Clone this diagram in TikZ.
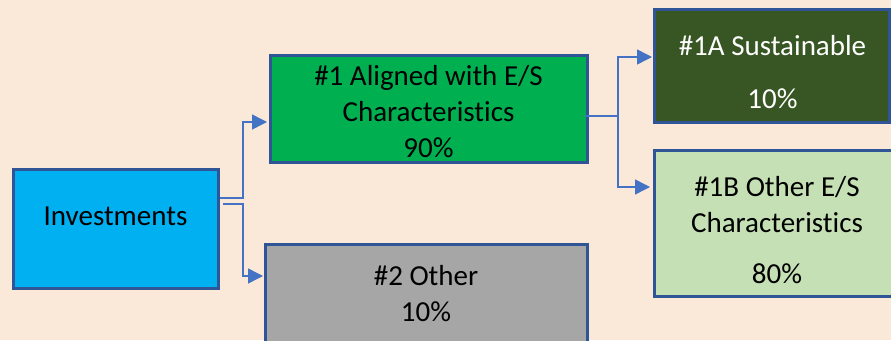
\documentclass[tikz,border=0pt]{standalone}
\usepackage{fontspec}
\setmainfont{Carlito}[Ligatures=NoCommon]
\usetikzlibrary{arrows.meta,calc}
\definecolor{bgpeach}{RGB}{250,232,217}
\definecolor{edgeblue}{RGB}{47,85,151}
\definecolor{connblue}{RGB}{68,114,196}
\definecolor{invblue}{RGB}{0,176,240}
\definecolor{esgreen}{RGB}{0,176,80}
\definecolor{susgreen}{RGB}{55,86,35}
\definecolor{oesgreen}{RGB}{197,224,180}
\definecolor{othgray}{RGB}{166,166,166}
\begin{document}
\begin{tikzpicture}[x=1pt,y=-1pt,
    box/.style={draw=edgeblue, line width=3pt, inner sep=0pt, outer sep=0pt, anchor=north west},
    lbl/.style={anchor=base, align=center, inner sep=0pt, font=\fontsize{29}{36}\selectfont},
    conn/.style={draw=connblue, line width=1.5pt, -{Triangle[length=15pt,width=15pt]}}]
\useasboundingbox (0,0) rectangle (891,340);
\clip (0,0) rectangle (891,340);
\fill[bgpeach] (0,0) rectangle (891,340);
\node[box, fill=invblue, minimum width=205pt, minimum height=119pt] (inv) at (13,169) {};
\node[box, fill=esgreen, minimum width=317pt, minimum height=107pt] (es) at (270,55) {};
\node[box, fill=othgray, minimum width=322pt, minimum height=120pt] (oth) at (265,244) {};
\node[box, fill=susgreen, minimum width=235pt, minimum height=113pt] (sus) at (654,9) {};
\node[box, fill=oesgreen, minimum width=246pt, minimum height=146pt] (oes) at (654,150) {};
\node[lbl] (invtxt) at ($(inv.north)+(0,56)$) {Investments};
\node[lbl] (estxt) at ($(es.north)+(0,102)$) {\#1 Aligned with E/S\\Characteristics\\90\%};
\node[lbl] (othtxt) at ($(oth.north)+(0,77)$) {\#2 Other\\10\%};
\node[lbl, text=white] (sustxt) at ($(sus.north)+(1,99)$) {\#1A Sustainable\\[17pt]10\%};
\node[lbl] (oestxt) at ($(oes.north)+(0,133)$) {\#1B Other E/S\\Characteristics\\[15pt]80\%};
\draw[conn] ($(inv.east)+(2,-30.5)$) -- ++(23,0) |- ($(es.west)+(-3,13.5)$);
\draw[conn] ($(inv.east)+(5,-24.5)$) -- ++(20,0) |- ($(oth.west)+(-2,-28)$);
\draw[conn] ($(es.east)+(-2,7.5)$) -- ++(33,0) |- ($(sus.west)+(-2,-8.5)$);
\draw[conn] ($(es.east)+(-2,7.5)$) -- ++(33,0) |- ($(oes.west)+(-4,-36)$);
\end{tikzpicture}
\end{document}
